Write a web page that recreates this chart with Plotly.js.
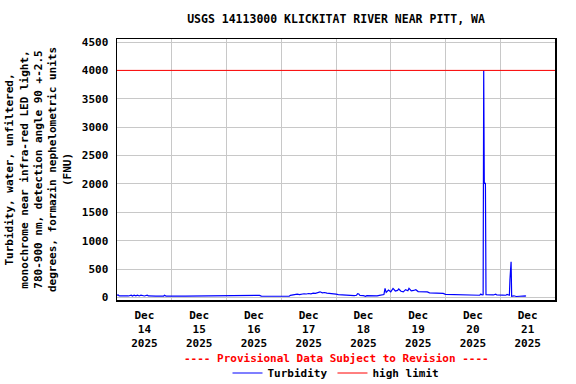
<!DOCTYPE html>
<html>
<head>
<meta charset="utf-8">
<script src="https://cdn.plot.ly/plotly-3.0.1.min.js"></script>
<style>html,body{margin:0;padding:0;background:#fff;}#chart{width:576px;height:384px;}</style>
</head>
<body>
<div id="chart"></div>
<script>
var chartTitle = "USGS 14113000 KLICKITAT RIVER NEAR PITT, WA";
var yTitleLines = ["Turbidity, water, unfiltered,", "monochrome near infra-red LED light,", "780-900 nm, detection angle 90 +-2.5", "degrees, formazin nephelometric units", "(FNU)"];
var provisionalNote = "---- Provisional Data Subject to Revision ----";
var seriesNames = ["Turbidity", "high limit"];
var yTickVals = [0, 500, 1000, 1500, 2000, 2500, 3000, 3500, 4000, 4500];
var xRange = ["2025-12-14 00:00", "2025-12-22 00:00"];

var turbidityTimes = [
"2025-12-14 00:00","2025-12-14 00:30","2025-12-14 01:00","2025-12-14 03:00","2025-12-14 05:00",
"2025-12-14 06:15","2025-12-14 06:45","2025-12-14 07:30","2025-12-14 08:15","2025-12-14 09:00",
"2025-12-14 09:45","2025-12-14 10:30","2025-12-14 11:15","2025-12-14 12:00","2025-12-14 13:15",
"2025-12-14 13:45","2025-12-14 17:00","2025-12-14 20:30","2025-12-14 20:45","2025-12-14 21:30",
"2025-12-15 06:00","2025-12-15 14:00","2025-12-15 19:00","2025-12-15 19:30","2025-12-15 20:00",
"2025-12-15 21:30","2025-12-15 22:15","2025-12-16 03:00","2025-12-16 09:00","2025-12-16 13:30",
"2025-12-16 14:00","2025-12-16 14:30","2025-12-16 15:15","2025-12-16 20:00","2025-12-17 02:00",
"2025-12-17 03:00","2025-12-17 03:30","2025-12-17 04:00","2025-12-17 05:00","2025-12-17 06:00",
"2025-12-17 07:00","2025-12-17 08:00","2025-12-17 09:00","2025-12-17 10:00","2025-12-17 11:00",
"2025-12-17 12:00","2025-12-17 13:00","2025-12-17 14:00","2025-12-17 15:00","2025-12-17 16:00",
"2025-12-17 17:00","2025-12-17 18:00","2025-12-17 19:00","2025-12-17 20:00","2025-12-17 21:00",
"2025-12-17 22:00","2025-12-17 23:00","2025-12-18 00:00","2025-12-18 01:00","2025-12-18 02:00",
"2025-12-18 03:00","2025-12-18 04:00","2025-12-18 05:00","2025-12-18 06:00","2025-12-18 07:00",
"2025-12-18 08:00","2025-12-18 09:00","2025-12-18 09:30","2025-12-18 10:00","2025-12-18 10:30",
"2025-12-18 12:00","2025-12-18 13:00","2025-12-18 13:30","2025-12-18 15:00","2025-12-18 16:00",
"2025-12-18 16:30","2025-12-18 18:00","2025-12-18 19:00","2025-12-18 20:00","2025-12-18 21:00",
"2025-12-18 21:30","2025-12-18 22:00","2025-12-18 23:00","2025-12-19 00:00","2025-12-19 01:00",
"2025-12-19 02:00","2025-12-19 03:00","2025-12-19 03:30","2025-12-19 04:30","2025-12-19 05:30",
"2025-12-19 06:30","2025-12-19 07:30","2025-12-19 08:00","2025-12-19 09:00","2025-12-19 10:00",
"2025-12-19 11:00","2025-12-19 12:00","2025-12-19 14:00","2025-12-19 16:00","2025-12-19 17:00",
"2025-12-19 20:00","2025-12-19 23:00","2025-12-20 00:00","2025-12-20 04:00","2025-12-20 08:00",
"2025-12-20 09:00","2025-12-20 10:00","2025-12-20 12:00","2025-12-20 14:00","2025-12-20 15:00",
"2025-12-20 15:30","2025-12-20 16:00","2025-12-20 16:30","2025-12-20 16:45","2025-12-20 17:00",
"2025-12-20 17:15","2025-12-20 17:30","2025-12-20 17:45","2025-12-20 21:00","2025-12-20 22:00",
"2025-12-20 22:30","2025-12-21 01:00","2025-12-21 02:30","2025-12-21 03:00","2025-12-21 03:30",
"2025-12-21 04:00","2025-12-21 04:15","2025-12-21 04:30","2025-12-21 04:45","2025-12-21 05:00",
"2025-12-21 06:00","2025-12-21 07:00","2025-12-21 08:00","2025-12-21 09:00","2025-12-21 10:00",
"2025-12-21 11:00","2025-12-21 11:15"
];
var turbidityValues = [
42,45,28,27,27,
40,27,40,28,40,
27,40,38,27,40,
27,26,26,40,26,
25,25,25,38,25,
38,37,37,36,36,
25,38,24,22,21,
32,22,38,45,42,
58,52,62,66,62,
70,64,78,72,84,
100,82,88,78,70,
62,64,58,52,48,
42,45,40,36,35,
34,40,66,62,35,
33,22,32,31,20,
32,30,38,48,52,
160,90,130,100,160,
115,125,150,110,100,
138,120,162,118,124,
138,105,100,98,82,
78,72,55,52,50,
40,52,50,48,40,
62,45,48,4000,2010,
2010,2010,48,45,58,
44,43,40,55,40,
40,323,628,628,22,
30,18,22,18,20,
28,20
];
var limitTimes = ["2025-12-14 00:00", "2025-12-22 00:00"];
var limitValues = [4000, 4000];

var monoBold = {family: "DejaVu Sans Mono, monospace", size: 11, color: "#000", weight: "bold"};

var traces = [
  {x: turbidityTimes, y: turbidityValues, type: "scatter", mode: "lines", name: seriesNames[0],
   line: {color: "#0000ff", width: 1.2}},
  {x: limitTimes, y: limitValues, type: "scatter", mode: "lines", name: seriesNames[1],
   line: {color: "#ff0000", width: 1}}
];

var layout = {
  width: 576, height: 384,
  margin: {l: 117, r: 21, t: 39, b: 84, autoexpand: false},
  paper_bgcolor: "#fff", plot_bgcolor: "#fff",
  font: monoBold,
  title: {text: chartTitle, font: {family: "DejaVu Sans Mono, monospace", size: 11.5, color: "#000", weight: "bold"},
          x: 0.5, xref: "paper", y: 1 - 19/384, yanchor: "middle"},
  xaxis: {
    type: "date", range: xRange, tick0: "2025-12-14", dtick: 86400000,
    ticklabelmode: "period", tickformat: "%b<br>%d<br>%Y",
    showgrid: true, gridcolor: "#c8c8c8", gridwidth: 1,
    showline: true, linecolor: "#000", linewidth: 1.5, mirror: true,
    ticks: "outside", ticklen: 4, tickcolor: "#fff", zeroline: false, tickfont: monoBold
  },
  yaxis: {
    range: [-44, 4553], tickvals: yTickVals, ticktext: yTickVals.map(String),
    showgrid: true, gridcolor: "#c8c8c8", gridwidth: 1,
    showline: true, linecolor: "#000", linewidth: 1.5, mirror: true,
    ticks: "outside", ticklen: 5, tickcolor: "#fff", zeroline: false, tickfont: monoBold,
    title: {text: yTitleLines.join("<br>"), font: monoBold, standoff: 8}
  },
  showlegend: true,
  legend: {orientation: "h", x: 0.5, xanchor: "center", yref: "container", y: 1 - 373/384, yanchor: "middle",
           font: monoBold, bgcolor: "rgba(0,0,0,0)", itemwidth: 30, tracegroupgap: 0},
  annotations: [
    {text: provisionalNote, xref: "paper", yref: "paper", x: 0.5, y: -58/261, xanchor: "center", yanchor: "middle",
     showarrow: false, font: {family: "DejaVu Sans Mono, monospace", size: 11, color: "#ff0000", weight: "bold"}}
  ]
};

Plotly.newPlot("chart", traces, layout, {staticPlot: true, displayModeBar: false});
</script>
</body>
</html>
